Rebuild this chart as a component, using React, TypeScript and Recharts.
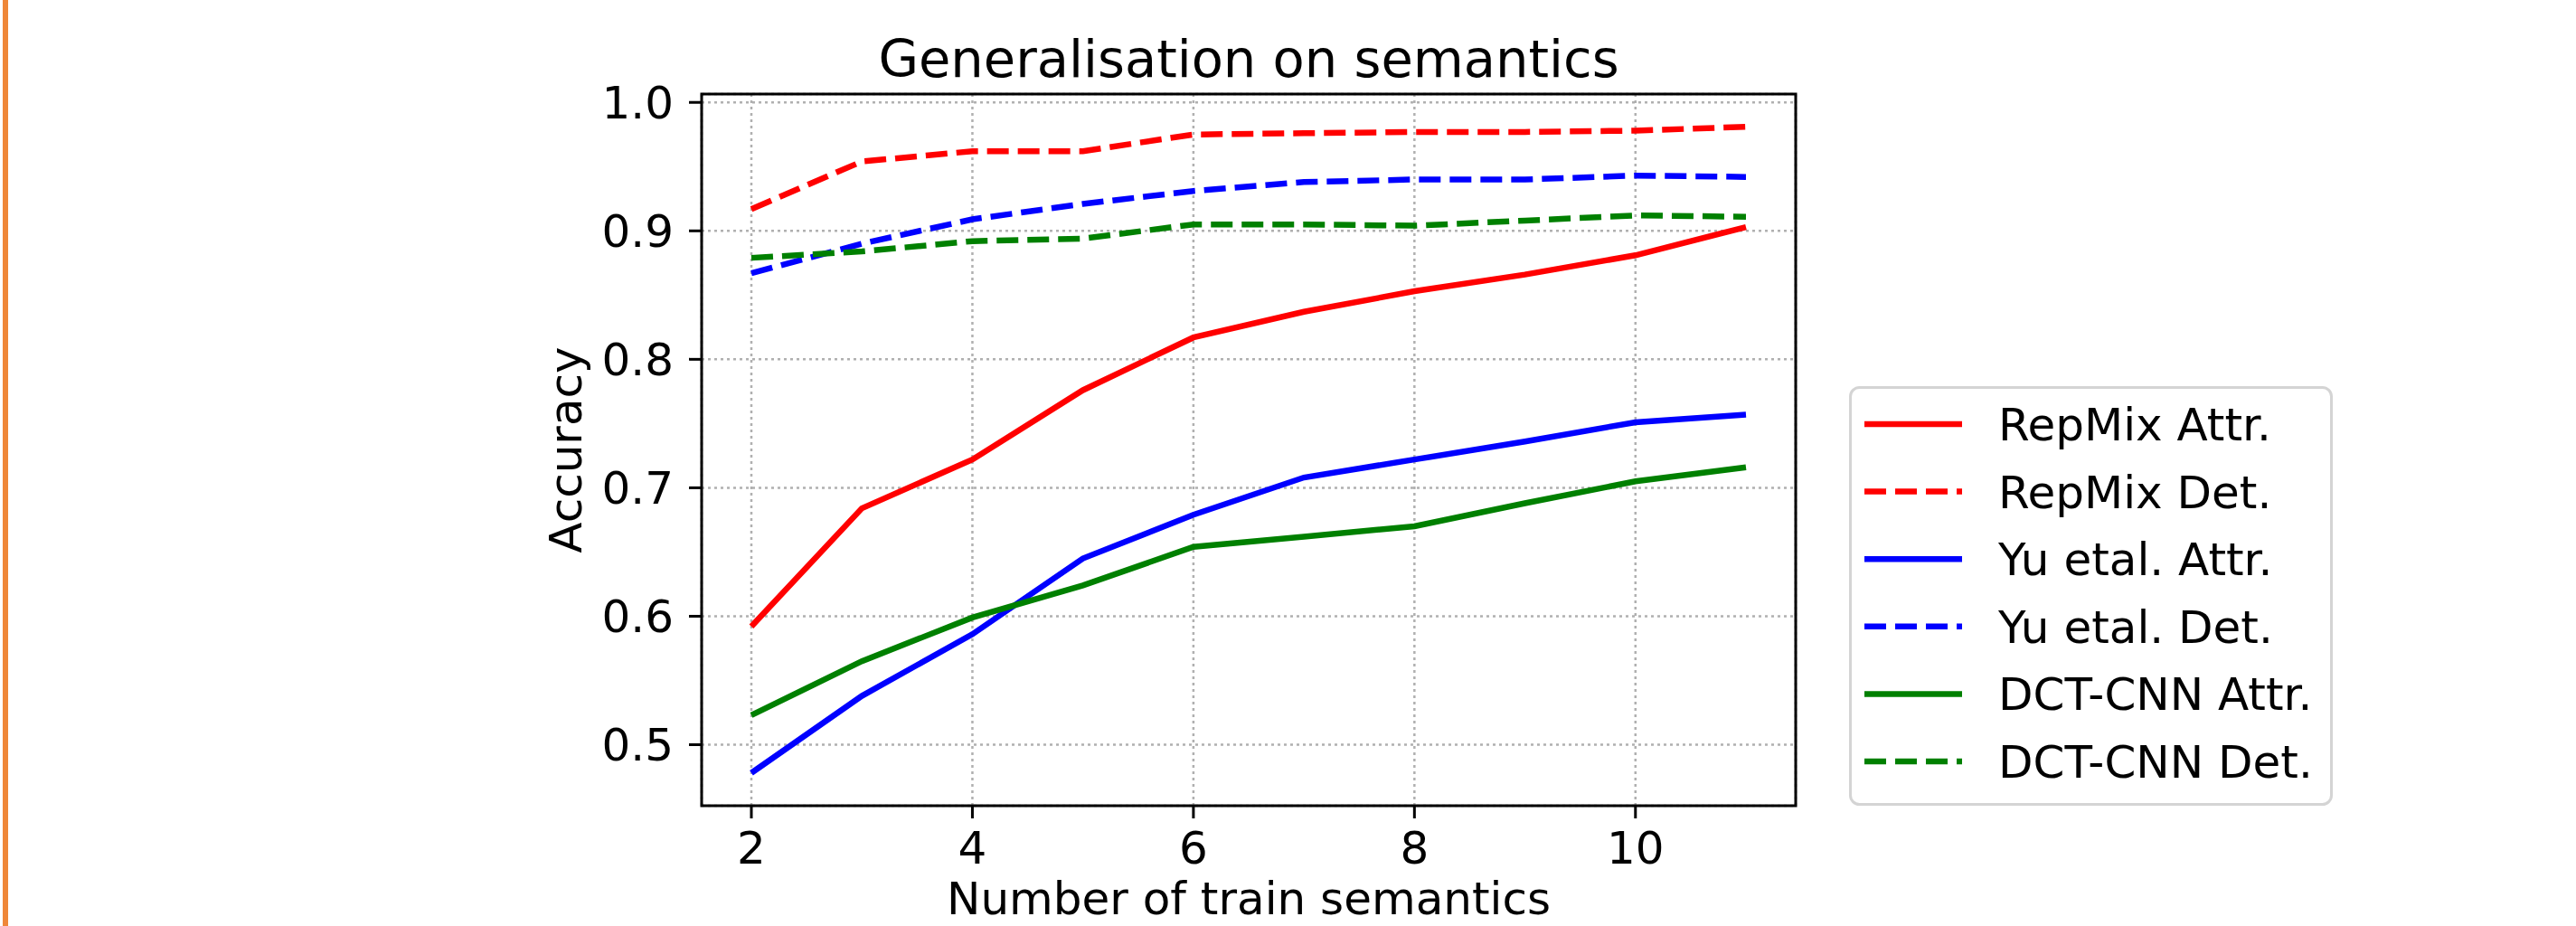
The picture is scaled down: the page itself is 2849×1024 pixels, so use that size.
import React from 'react';
import { LineChart, Line, XAxis, YAxis, CartesianGrid, ReferenceArea, Legend } from 'recharts';

// ---- data ----
const xValues = [2, 3, 4, 5, 6, 7, 8, 9, 10, 11];
const repmixAttr = [0.592, 0.684, 0.722, 0.776, 0.817, 0.837, 0.853, 0.866, 0.881, 0.903];
const repmixDet = [0.917, 0.954, 0.962, 0.962, 0.975, 0.976, 0.977, 0.977, 0.978, 0.981];
const yuAttr = [0.478, 0.538, 0.586, 0.645, 0.679, 0.708, 0.722, 0.736, 0.751, 0.757];
const yuDet = [0.867, 0.890, 0.909, 0.921, 0.931, 0.938, 0.940, 0.940, 0.943, 0.942];
const dctAttr = [0.523, 0.565, 0.599, 0.624, 0.654, 0.662, 0.670, 0.688, 0.705, 0.716];
const dctDet = [0.879, 0.884, 0.892, 0.894, 0.905, 0.905, 0.904, 0.908, 0.912, 0.911];

const xTicks = [2, 4, 6, 8, 10];
const yTicks = [0.5, 0.6, 0.7, 0.8, 0.9, 1.0];

const TITLE = 'Generalisation on semantics';
const X_LABEL = 'Number of train semantics';
const Y_LABEL = 'Accuracy';

const X_DOMAIN: [number, number] = [1.55, 11.45];
const Y_DOMAIN: [number, number] = [0.4525, 1.0065];

const SERIES = [
  { key: 'repmixAttr', name: 'RepMix Attr.', color: '#ff0000', dashed: false, values: repmixAttr },
  { key: 'repmixDet', name: 'RepMix Det.', color: '#ff0000', dashed: true, values: repmixDet },
  { key: 'yuAttr', name: 'Yu etal. Attr.', color: '#0000ff', dashed: false, values: yuAttr },
  { key: 'yuDet', name: 'Yu etal. Det.', color: '#0000ff', dashed: true, values: yuDet },
  { key: 'dctAttr', name: 'DCT-CNN Attr.', color: '#008000', dashed: false, values: dctAttr },
  { key: 'dctDet', name: 'DCT-CNN Det.', color: '#008000', dashed: true, values: dctDet },
];

const data = xValues.map((x, i) => {
  const row: Record<string, number> = { x };
  SERIES.forEach((s) => {
    row[s.key] = s.values[i];
  });
  return row;
});

// ---- layout / style ----
const FONT = '"DejaVu Sans", Verdana, sans-serif';
const W = 2849;
const H = 1024;
const PLOT_LEFT = 776;
const PLOT_RIGHT = 1986;
const PLOT_TOP = 104;
const PLOT_BOTTOM = 891;
const Y_AXIS_W = 80;
const X_AXIS_H = 60;
const LINE_W = 6.5;
const DASH = '24 10';

const LEGEND_BOX = { left: 2045, top: 427, width: 535, height: 464 };
const LEGEND_ROW0 = 42;
const LEGEND_ROW_STEP = 74.6;

const renderLegend = () => (
  <svg width={LEGEND_BOX.width} height={LEGEND_BOX.height} style={{ display: 'block' }}>
    <rect
      x={1.5}
      y={1.5}
      width={LEGEND_BOX.width - 3}
      height={LEGEND_BOX.height - 3}
      rx={10}
      ry={10}
      fill="rgba(255,255,255,0.8)"
      stroke="#d4d4d4"
      strokeWidth={3}
    />
    {SERIES.map((s, i) => {
      const cy = LEGEND_ROW0 + i * LEGEND_ROW_STEP;
      return (
        <g key={s.key}>
          <line
            x1={17}
            x2={125}
            y1={cy}
            y2={cy}
            stroke={s.color}
            strokeWidth={LINE_W}
            strokeDasharray={s.dashed ? DASH : undefined}
          />
          <text x={165} y={cy + 18} fontSize={50} fontFamily={FONT} fill="#000">
            {s.name}
          </text>
        </g>
      );
    })}
  </svg>
);

export default function App() {
  const cx = (PLOT_LEFT + PLOT_RIGHT) / 2;
  const cy = (PLOT_TOP + PLOT_BOTTOM) / 2;
  return (
    <div style={{ position: 'absolute', left: 0, top: 0, width: W, height: H, background: '#fff', fontFamily: FONT }}>
      <div style={{ position: 'absolute', left: 3, top: 0, width: 6, height: H, background: '#ef8739' }} />
      <LineChart
        width={W}
        height={H}
        data={data}
        margin={{
          top: PLOT_TOP,
          bottom: H - PLOT_BOTTOM - X_AXIS_H,
          left: PLOT_LEFT - Y_AXIS_W,
          right: W - PLOT_RIGHT,
        }}
      >
        <CartesianGrid stroke="#b0b0b0" strokeWidth={2.5} strokeDasharray="3 4" />
        <XAxis
          dataKey="x"
          type="number"
          domain={X_DOMAIN}
          allowDataOverflow
          ticks={xTicks}
          height={X_AXIS_H}
          axisLine={false}
          tickLine={{ stroke: '#000', strokeWidth: 3 }}
          tickSize={14}
          tickMargin={14}
          tick={{ fontSize: 50, fill: '#000', fontFamily: FONT }}
          interval={0}
        />
        <YAxis
          type="number"
          domain={Y_DOMAIN}
          allowDataOverflow
          ticks={yTicks}
          width={Y_AXIS_W}
          axisLine={false}
          tickLine={{ stroke: '#000', strokeWidth: 3 }}
          tickSize={14}
          tickMargin={17}
          tick={{ fontSize: 50, fill: '#000', fontFamily: FONT }}
          tickFormatter={(v: number) => v.toFixed(1)}
          interval={0}
        />
        {SERIES.map((s) => (
          <Line
            key={s.key}
            dataKey={s.key}
            name={s.name}
            type="linear"
            stroke={s.color}
            strokeWidth={LINE_W}
            strokeDasharray={s.dashed ? DASH : undefined}
            dot={false}
            activeDot={false}
            isAnimationActive={false}
          />
        ))}
        <ReferenceArea
          x1={X_DOMAIN[0]}
          x2={X_DOMAIN[1]}
          y1={Y_DOMAIN[0]}
          y2={Y_DOMAIN[1]}
          fill="none"
          fillOpacity={0}
          stroke="#000"
          strokeWidth={3}
          ifOverflow="visible"
        />
        <Legend
          layout="vertical"
          align="center"
          verticalAlign="middle"
          content={renderLegend}
          wrapperStyle={{ left: LEGEND_BOX.left, top: LEGEND_BOX.top, width: LEGEND_BOX.width, height: LEGEND_BOX.height }}
        />
        <text x={cx} y={85} textAnchor="middle" fontSize={57.5} fontFamily={FONT} fill="#000">
          {TITLE}
        </text>
        <text x={cx} y={1011} textAnchor="middle" fontSize={50} fontFamily={FONT} fill="#000">
          {X_LABEL}
        </text>
        <text
          x={643}
          y={cy}
          textAnchor="middle"
          fontSize={50}
          fontFamily={FONT}
          fill="#000"
          transform={`rotate(-90 643 ${cy})`}
        >
          {Y_LABEL}
        </text>
      </LineChart>
    </div>
  );
}
